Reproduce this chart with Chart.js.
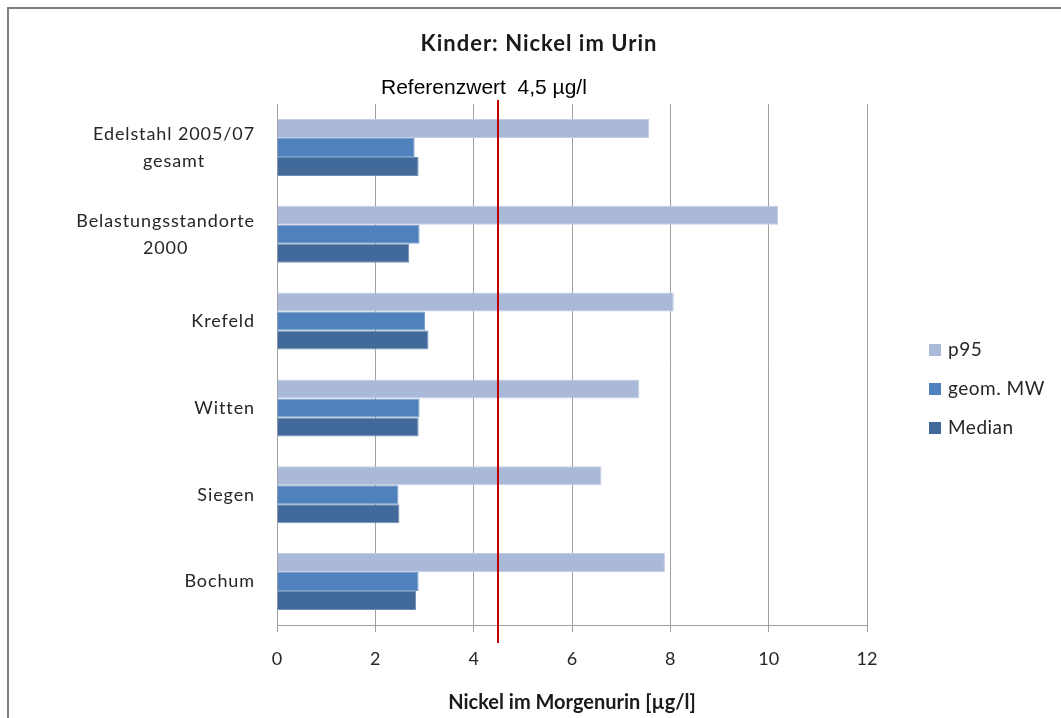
<!DOCTYPE html>
<html>
<head>
<meta charset="utf-8">
<script src="https://cdn.jsdelivr.net/npm/chart.js@4/dist/chart.umd.min.js"></script>
<style>
  html, body { margin: 0; padding: 0; background: #ffffff; }
  #wrap { width: 1061px; height: 718px; }
</style>
</head>
<body>
<div id="wrap"><canvas id="chart" width="1061" height="718"></canvas></div>
<script>
// Sampling sites (top to bottom)
const categories = [
  ['Edelstahl 2005/07', 'gesamt'],
  ['Belastungsstandorte', '2000'],
  'Krefeld',
  'Witten',
  'Siegen',
  'Bochum'
];

// Nickel in morning urine, µg/l
const seriesLabels = ['p95', 'geom. MW', 'Median'];
const p95Values    = [7.57, 10.19, 8.07, 7.37, 6.60, 7.89];
const geomMWValues = [2.80, 2.90, 3.01, 2.90, 2.47, 2.88];
const medianValues = [2.88, 2.69, 3.08, 2.88, 2.49, 2.83];

// Value axis
const xMin = 0;
const xMax = 12;
const xStep = 2;

// Reference value for children
const referenceValue = 4.5;
const referenceText = 'Referenzwert  4,5 µg/l';

const chartTitle = 'Kinder: Nickel im Urin';
const xAxisTitle = 'Nickel im Morgenurin [µg/l]';

const FONT = 'Lato, "Open Sans", sans-serif';

// White page with a grey frame on the top and left edges
const framePlugin = {
  id: 'frame',
  beforeDraw(chart) {
    const ctx = chart.ctx;
    ctx.save();
    ctx.fillStyle = '#ffffff';
    ctx.fillRect(0, 0, chart.width, chart.height);
    ctx.strokeStyle = '#808080';
    ctx.lineWidth = 2;
    ctx.beginPath();
    ctx.moveTo(8, chart.height + 2);
    ctx.lineTo(8, 8);
    ctx.lineTo(chart.width + 2, 8);
    ctx.stroke();
    ctx.restore();
  }
};

// Title, reference line with its caption, category labels and legend
const overlayPlugin = {
  id: 'overlay',
  afterDraw(chart) {
    const ctx = chart.ctx;
    const xs = chart.scales.x;
    const ys = chart.scales.y;
    const area = chart.chartArea;
    ctx.save();

    // title
    ctx.fillStyle = '#1a1a1a';
    ctx.font = 'bold 22px ' + FONT;
    ctx.letterSpacing = '1px';
    ctx.textAlign = 'center';
    ctx.textBaseline = 'middle';
    ctx.fillText(chartTitle, 539, 44);

    // reference caption
    ctx.font = '21px "Liberation Sans", Arial, sans-serif';
    ctx.letterSpacing = '0px';
    ctx.fillStyle = '#000000';
    ctx.textAlign = 'left';
    ctx.fillText(referenceText, 381, 88);

    // reference line
    const rx = Math.round(xs.getPixelForValue(referenceValue));
    ctx.strokeStyle = '#C00000';
    ctx.lineWidth = 2;
    ctx.beginPath();
    ctx.moveTo(rx, area.top - 4);
    ctx.lineTo(rx, area.bottom + 18);
    ctx.stroke();

    // category labels, each block right-aligned, lines centred within it
    ctx.font = '18px ' + FONT;
    ctx.letterSpacing = '0.9px';
    ctx.fillStyle = '#262626';
    ctx.textAlign = 'center';
    ctx.textBaseline = 'middle';
    const rightEdge = 255;
    const lineGap = 27;
    categories.forEach((cat, i) => {
      const lines = Array.isArray(cat) ? cat : [cat];
      const w = Math.max(...lines.map(l => ctx.measureText(l).width));
      const cx = rightEdge - w / 2;
      const cy = ys.getPixelForValue(i);
      const y0 = cy - (lines.length - 1) * lineGap / 2;
      lines.forEach((l, k) => ctx.fillText(l, cx, y0 + k * lineGap));
    });

    // legend
    ctx.font = '19px ' + FONT;
    ctx.letterSpacing = '0.5px';
    ctx.textAlign = 'left';
    chart.data.datasets.forEach((ds, i) => {
      const cy = 350 + i * 39;
      ctx.fillStyle = ds.backgroundColor;
      ctx.fillRect(929, cy - 6, 12, 12);
      ctx.fillStyle = '#262626';
      ctx.fillText(ds.label, 948, cy);
    });

    ctx.restore();
  }
};

new Chart(document.getElementById('chart'), {
  type: 'bar',
  data: {
    labels: categories,
    datasets: [
      { label: seriesLabels[0], data: p95Values,    backgroundColor: '#AAB9D7', borderColor: '#C3CEE4', borderWidth: 1 },
      { label: seriesLabels[1], data: geomMWValues, backgroundColor: '#4F81BD', borderColor: '#7A9FCC', borderWidth: 1 },
      { label: seriesLabels[2], data: medianValues, backgroundColor: '#416A9B', borderColor: '#6F8DB5', borderWidth: 1 }
    ]
  },
  options: {
    indexAxis: 'y',
    responsive: false,
    animation: false,
    devicePixelRatio: 1,
    layout: { padding: { left: 0, top: 104, right: 194, bottom: 0 } },
    categoryPercentage: 0.657,
    barPercentage: 1.0,
    plugins: {
      legend: { display: false },
      title: { display: false },
      tooltip: { enabled: false }
    },
    scales: {
      x: {
        type: 'linear',
        min: xMin,
        max: xMax,
        ticks: {
          stepSize: xStep,
          color: '#262626',
          font: { family: FONT, size: 18 },
          padding: 16
        },
        grid: { color: '#A0A0A0', lineWidth: 1, tickLength: 7, drawTicks: true },
        border: { color: '#A0A0A0', width: 1 },
        title: {
          display: true,
          text: xAxisTitle,
          color: '#1a1a1a',
          font: { family: FONT, size: 20, weight: 'bold' },
          padding: { top: 0, bottom: 3 }
        },
        afterFit(scale) { scale.height = 93; }
      },
      y: {
        type: 'category',
        ticks: { display: false },
        grid: { display: false, drawTicks: false },
        border: { display: true, color: '#A0A0A0', width: 1 },
        afterFit(scale) { scale.width = 277; }
      }
    }
  },
  plugins: [framePlugin, overlayPlugin]
});
</script>
</body>
</html>
